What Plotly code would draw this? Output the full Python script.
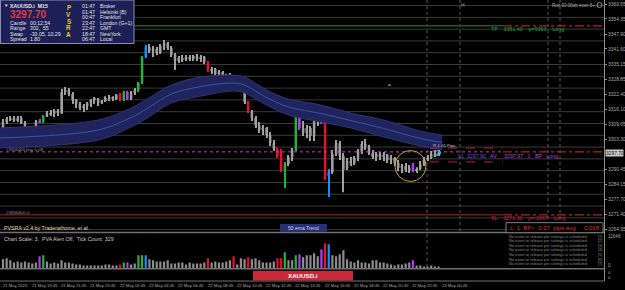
import plotly.graph_objects as go
import numpy as np

W, H = 625, 290

# ---------------- data ----------------
opens = [3306.0,3310.6,3311.9,3312.3,3311.1,3312.3,3310.2,3308.1,3305.5,3308.1,
         3311.1,3310.6,3313.2,3314.4,3314.0,3315.3,3314.4,3323.3,3324.2,3322.5,
         3320.0,3318.3,3316.6,3317.4,3318.7,3320.0,3320.4,3318.7,3319.5,3320.8,
         3321.2,3320.4,3322.5,3320.0,3323.3,3320.4,3322.9,3324.2,3327.2,3338.2,
         3342.4,3340.7,3341.6,3339.9,3342.8,3344.1,3342.0,3339.0,3336.5,3337.8,
         3336.9,3338.2,3337.3,3338.6,3337.3,3338.2,3336.1,3332.3,3333.1,3331.0,
         3331.8,3327.6,3330.1,3329.7,3328.4,3328.9,3326.7,3319.1,3314.9,3312.3,
         3309.4,3307.2,3308.1,3305.1,3301.7,3299.2,3297.9,3289.9,3292.8,3295.8,
         3298.8,3314.0,3308.1,3306.0,3308.1,3304.7,3314.0,3311.5,3310.2,3287.7,
         3289.4,3297.1,3301.7,3296.2,3291.1,3294.1,3293.2,3295.4,3298.3,3301.3,
         3300.0,3297.5,3295.8,3297.1,3295.8,3296.6,3294.5,3295.4,3293.2,3291.1,
         3292.0,3290.3,3292.8,3289.9,3290.7,3292.8,3294.5,3295.4,3297.1,3296.6]
highs = [3311.9,3312.7,3313.2,3313.2,3313.2,3313.2,3311.1,3308.9,3308.9,3311.5,
         3311.9,3313.6,3315.3,3315.7,3316.1,3316.1,3324.6,3325.5,3325.0,3323.3,
         3320.4,3319.1,3318.3,3319.1,3320.4,3321.2,3320.8,3320.0,3321.6,3322.1,
         3321.6,3322.5,3322.9,3323.8,3323.8,3323.8,3325.0,3327.6,3338.6,3343.3,
         3343.7,3342.8,3342.4,3343.7,3345.4,3344.5,3342.8,3339.9,3338.6,3339.0,
         3339.0,3339.0,3339.0,3339.5,3339.0,3338.6,3336.5,3334.0,3333.5,3332.7,
         3332.3,3331.0,3331.4,3330.1,3329.7,3329.3,3327.6,3319.5,3315.7,3313.2,
         3310.6,3309.4,3308.5,3306.4,3303.0,3300.0,3299.2,3293.7,3296.6,3299.6,
         3314.4,3314.4,3311.1,3309.4,3308.9,3315.3,3314.9,3312.3,3310.6,3290.7,
         3298.8,3303.0,3302.6,3297.5,3295.4,3295.8,3296.2,3299.2,3302.6,3303.4,
         3300.9,3298.8,3297.9,3297.9,3297.9,3297.1,3296.6,3295.8,3294.5,3292.8,
         3293.2,3292.4,3293.2,3291.5,3294.1,3295.8,3296.6,3298.3,3298.8,3298.8]
lows = [3303.8,3309.8,3311.1,3310.6,3310.6,3309.8,3307.2,3303.0,3300.5,3307.2,
        3310.2,3310.2,3312.7,3313.2,3312.7,3313.2,3314.0,3322.1,3321.6,3318.3,
        3316.6,3315.7,3314.9,3315.7,3317.0,3318.3,3317.4,3318.3,3319.1,3319.5,
        3319.5,3320.0,3319.5,3319.5,3320.0,3320.0,3322.1,3323.3,3326.7,3337.8,
        3339.9,3338.2,3339.0,3339.5,3341.2,3341.2,3338.2,3332.7,3335.6,3336.1,
        3336.5,3336.5,3336.5,3336.5,3336.1,3335.2,3331.8,3331.0,3329.7,3328.4,
        3326.3,3325.9,3328.4,3328.0,3327.2,3325.9,3318.3,3314.4,3311.1,3308.1,
        3306.0,3305.1,3303.8,3300.5,3298.3,3295.4,3289.4,3282.6,3292.0,3294.1,
        3298.3,3307.2,3304.7,3303.8,3302.6,3302.6,3308.9,3309.8,3286.0,3278.8,
        3288.6,3296.2,3294.5,3280.9,3290.3,3292.0,3292.4,3294.1,3297.1,3298.8,
        3296.6,3294.9,3294.1,3294.5,3294.1,3293.2,3292.8,3292.0,3289.8,3289.0,
        3289.4,3289.0,3289.4,3289.0,3290.3,3292.0,3294.1,3294.9,3295.8,3296.2]
closes = [3310.6,3311.9,3312.3,3311.1,3312.3,3310.2,3308.1,3305.5,3308.1,3310.6,
          3310.6,3313.2,3314.4,3314.0,3315.3,3314.4,3323.3,3324.2,3322.5,3320.0,
          3318.3,3316.6,3317.4,3318.7,3320.0,3320.4,3318.7,3319.5,3320.8,3321.2,
          3320.4,3322.1,3320.0,3323.3,3320.4,3322.9,3324.2,3327.2,3338.2,3342.4,
          3340.7,3341.6,3339.9,3342.8,3344.1,3342.0,3339.0,3336.5,3337.8,3336.9,
          3338.2,3337.3,3338.6,3337.3,3338.2,3336.1,3332.3,3333.1,3331.0,3331.8,
          3327.6,3330.1,3329.3,3328.4,3328.9,3326.7,3319.1,3314.9,3312.3,3309.4,
          3307.2,3308.1,3305.1,3301.7,3299.2,3296.2,3289.9,3292.8,3295.8,3298.8,
          3314.0,3308.1,3306.0,3308.1,3304.7,3314.0,3311.1,3310.2,3286.9,3289.4,
          3297.1,3301.7,3296.2,3290.3,3294.1,3293.2,3295.4,3298.3,3301.3,3300.0,
          3297.5,3295.8,3297.1,3295.8,3296.6,3294.5,3295.4,3293.2,3291.1,3292.0,
          3290.3,3291.1,3289.9,3290.7,3292.8,3294.5,3295.4,3297.1,3296.6,3297.7]
volumes = [3350,3720,2980,2230,2600,2230,2600,2230,1860,2230,
           4460,4840,2600,1860,2230,1860,2980,2230,2230,1860,
           1490,1490,1120,1120,1120,1120,1120,1120,1490,1490,
           1120,1120,1490,2230,2230,1490,1860,4840,4840,4840,
           3350,2980,2600,2600,2600,2980,1860,1860,2230,2230,
           1490,2230,1860,1860,1860,2230,3720,2230,2600,2230,
           2230,2600,2980,4460,1490,3720,3350,4090,3350,3720,
           2980,2230,2230,2230,2600,3720,3720,5950,2980,2980,
           4840,5210,4090,4840,4840,5580,4460,7070,9300,8930,
           4840,4460,5210,6700,3350,2600,2230,2980,2230,2230,
           1860,2980,2980,2230,2230,1860,1490,1120,1490,1490,
           1860,2230,2980,1120,1120,740,740,1120,740,740]

# PVSRA climax / rising-volume candles
pvsra_green = [11, 33, 37, 38, 77, 80]
pvsra_red = [32, 56, 63, 67, 75, 76, 88]
pvsra_blue = [39, 89]
pvsra_violet = [10, 34, 81, 87, 112]

# 50 EMA band (bar index, upper, lower)
ema_idx = [-1, 26, 35, 39, 46, 54, 63, 66, 72, 78, 87, 95, 104, 114, 120]
ema_upper = [3308.1, 3311.5, 3316.6, 3320.0, 3326.3, 3329.7, 3330.5, 3329.7, 3324.2,
             3320.4, 3317.8, 3314.4, 3311.5, 3306.8, 3305.1]
ema_lower = [3299.6, 3303.0, 3308.5, 3311.9, 3318.7, 3321.6, 3323.8, 3322.9, 3317.8,
             3313.6, 3310.6, 3308.1, 3304.3, 3300.5, 3298.8]

price_ticks = [3360.65, 3354.35, 3347.90, 3341.60, 3335.15, 3328.85, 3322.40, 3316.10,
               3309.65, 3303.30, 3290.45, 3284.15, 3277.70, 3271.40, 3264.95]
current_price = 3297.70
tp_price = 3351.40
sl_price = 3271.30
entry_price = 3297.97
range_hi = 3299.6
range_lo = 3293.7
vol_max_label = 11646

time_labels = ["21 May 2025", "21 May 19:45", "21 May 21:45", "21 May 23:45", "22 May 02:45",
               "22 May 04:45", "22 May 06:45", "22 May 08:45", "22 May 10:45", "22 May 12:45",
               "22 May 14:45", "22 May 16:45", "22 May 18:45", "22 May 20:45", "22 May 22:45",
               "23 May 00:45"]
time_label_idx = [0, 8, 16, 24, 32, 40, 48, 56, 64, 72, 80, 88, 96, 104, 112, 120]

# ---------------- styling ----------------
FONT = "Liberation Sans"
C_NORM = "#a0a0a0"
C_G, C_R, C_B, C_V = "#1fb53c", "#e3102e", "#1e8cf5", "#b43cf0"

n = len(opens)
idx = np.arange(n)
o, h, l, c = map(np.array, (opens, highs, lows, closes))
cols = [C_NORM] * n
for i in pvsra_green: cols[i] = C_G
for i in pvsra_red: cols[i] = C_R
for i in pvsra_blue: cols[i] = C_B
for i in pvsra_violet: cols[i] = C_V
vcols = ["#8c8c8c" if cc == C_NORM else cc for cc in cols]

fig = go.Figure()

# EMA band
fig.add_trace(go.Scatter(x=ema_idx, y=ema_upper, mode="lines", line=dict(color="#2e3478", width=1, shape="spline"),
                         hoverinfo="skip"))
fig.add_trace(go.Scatter(x=ema_idx, y=ema_lower, mode="lines", line=dict(color="#2e3478", width=1, shape="spline"),
                         fill="tonexty", fillcolor="#20245c", hoverinfo="skip"))
mid = [(a + b) / 2 for a, b in zip(ema_upper, ema_lower)]
fig.add_trace(go.Scatter(x=ema_idx, y=mid, mode="lines", line=dict(color="#3560c0", width=0.8, shape="spline"),
                         hoverinfo="skip"))

# candles: wicks and bodies
fig.add_trace(go.Bar(x=idx, base=l, y=h - l, width=0.28, marker=dict(color=cols, line=dict(width=0)),
                     hoverinfo="skip"))
body_lo = np.minimum(o, c)
body_h = np.maximum(np.abs(c - o), 0.45)
fig.add_trace(go.Bar(x=idx, base=body_lo, y=body_h, width=0.68, marker=dict(color=cols, line=dict(width=0)),
                     hoverinfo="skip"))

# volume
fig.add_trace(go.Bar(x=idx, y=volumes, width=0.6, marker=dict(color=vcols, line=dict(width=0)),
                     yaxis="y2", hoverinfo="skip"))

XR = 604 / W

def px(x): return x / W
def py(y): return 1 - y / H

shapes = []
annotations = []

def rect(x0, y0, x1, y1, fill=None, line=None, lw=1):
    shapes.append(dict(type="rect", xref="paper", yref="paper", x0=px(x0), x1=px(x1), y0=py(y1), y1=py(y0),
                       fillcolor=fill or "rgba(0,0,0,0)", line=dict(color=line or "rgba(0,0,0,0)", width=lw if line else 0),
                       layer="above"))

def hline(x0, x1, y, color, width=1, dash="solid", price=None):
    if price is None:
        shapes.append(dict(type="line", xref="paper", yref="paper", x0=px(x0), x1=px(x1), y0=py(y), y1=py(y),
                           line=dict(color=color, width=width, dash=dash), layer="above"))
    else:
        shapes.append(dict(type="line", xref="paper", yref="y", x0=px(x0), x1=px(x1), y0=price, y1=price,
                           line=dict(color=color, width=width, dash=dash), layer="above"))

def vline(x, y0, y1, color, width=1, dash="solid"):
    shapes.append(dict(type="line", xref="paper", yref="paper", x0=px(x), x1=px(x), y0=py(y0), y1=py(y1),
                       line=dict(color=color, width=width, dash=dash), layer="below"))

def txt(x, y, s, size=5.5, color="#d0d0d0", xa="left", bold=False, family=FONT):
    if bold:
        s = "<b>" + s + "</b>"
    annotations.append(dict(x=px(x), y=py(y), xref="paper", yref="paper", text=s, showarrow=False,
                            xanchor=xa, yanchor="middle", font=dict(size=size, color=color, family=family),
                            borderpad=0))

# $5 horizontal levels
for lv in range(3265, 3361, 5):
    shapes.append(dict(type="line", xref="paper", yref="y", x0=0, x1=XR, y0=lv, y1=lv,
                       line=dict(color="#3a3a3a", width=1), layer="below"))

# vertical dotted session lines
for xv in (427, 460, 548, 560):
    vline(xv, 0, 232, "#5a5a5a", 1, "dot")
vline(427, 234, 268, "#5a5a5a", 1, "dot")

# TP / SL / entry lines
hline(0, 503, None, "#1d5a22", 1.5, price=tp_price)
hline(503, 604, None, "#b0241c", 1.2, "dashdot", price=tp_price)
hline(0, 503, None, "#7a1418", 1.5, price=sl_price)
hline(503, 604, None, "#b0241c", 1.2, "dashdot", price=sl_price)
hline(0, 503, None, "#c040c0", 1, "dot", price=entry_price)
hline(503, 604, None, "#b0241c", 1.2, "dashdot", price=entry_price)
hline(430, 503, None, "#c0183c", 1, "dash", price=range_hi)
hline(430, 503, None, "#c0183c", 1, "dash", price=range_lo)

# circles
shapes.append(dict(type="circle", xref="paper", yref="paper", x0=px(395), x1=px(426), y0=py(181.5), y1=py(150.5),
                   line=dict(color="#c8a030", width=1)))
shapes.append(dict(type="circle", xref="paper", yref="paper", x0=px(435.5), x1=px(440.5), y0=py(155.5), y1=py(150.5),
                   line=dict(color="#30c8e8", width=1)))
rect(388, 84.5, 391, 85.8, fill="#d09020")

# pane separators / frame
hline(0, 604, 232.5, "#707070", 1.5)
hline(0, 604, 268.8, "#707070", 1.5)
hline(0, 604, 281, "#707070", 1)
vline(604.5, 0, 281, "#8c8c8c", 1)

# info panel
rect(0.5, 0, 134, 43.5, fill="#1d2056", line="#8a8fb0", lw=1)
txt(3, 5.6, "▼", 4.5, "#e0e0e0")
txt(9, 5.6, "XAUUSD.i  M15", 5.2, "#e8e8e8", bold=True)
txt(8.5, 14.8, "3297.70", 10, "#e8344a", bold=True)
for yy, k, v in [(22.7, "Candle", "00:12:54"), (28.2, "Range", "302,  55"),
                 (33.6, "Swap", "-30.05, 10.29"), (39.0, "Spread", "1.80")]:
    txt(9, yy, k, 5.2, "#e0e0e0")
    txt(29, yy, v, 5.2, "#e0e0e0")
for yy, ch in zip([7.3, 14.2, 21.0, 27.8, 34.6], "PVSRA"):
    txt(68.5, yy, ch, 6.3, "#e8cc22", xa="center", bold=True)
for yy, t, nme in [(5.8, "01:47", "Broker"), (11.5, "01:47", "Helsinki (B)"), (17.1, "00:47", "Frankfurt"),
                   (22.7, "23:47", "London (G+1)"), (28.3, "22:47", "GMT"), (33.9, "18:47", "NewYork"),
                   (39.4, "06:47", "Local")]:
    txt(81, yy, t, 5.2, "#e0e0e0")
    txt(98.5, yy, nme, 5.2, "#e0e0e0")

# top-right
txt(463, 5, "H", 5, "#9a9a9a", xa="center")
txt(596, 5, "Run 00:00sh even 6+", 4.5, "#b0b0b0", xa="right")
shapes.append(dict(type="circle", xref="paper", yref="paper", x0=px(597), x1=px(602), y0=py(7.5), y1=py(2.5),
                   line=dict(color="#b0b0b0", width=0.8)))

# trade texts
txt(490, 29.3, "TP    3351.40    p=5363    Long", 5.3, "#23a83c")
txt(490, 218.3, "SL    3271.30    p=-2667    Long", 5.3, "#d42032")
txt(457, 155.5, "01  3297.90", 5.3, "#6a58d8")
txt(489, 155.5, "AV     3297.97   1   BP   Long", 5.3, "#b044e0")
txt(432, 145, "R-1.05 Pips", 4.3, "#c8c8c8")
txt(5, 149.3, "#3306400 buy 0.08", 4.3, "#9a9a9a")
txt(5, 212.5, "#3306400 sl", 4.3, "#9a9a9a")

# 50 ema trend box
rect(280, 224, 327, 232, fill="#283070")
txt(303.5, 228.2, "50 ema Trend", 5, "#c8d0ff", xa="center")

# indicator titles
txt(3, 227.5, "PVSRA v2.4 by Traderathome, et al.", 5.3, "#e8dca8")
txt(3, 238.6, "Chart Scale: 3,  PVA Alert Off,  Tick Count: 329", 5.3, "#c8c8c8")

# L box
rect(506, 222.7, 603, 232.7, fill="#000000", line="#808080", lw=1)
txt(508.5, 227.8, "L: 1  BP>  0.27  pips avg", 6, "#e02a2a")
txt(601, 227.8, "0.018", 6, "#e02a2a", xa="right")

# event lines
for k, yy in enumerate([236.2, 240.8, 245.4, 250.0, 254.6, 259.2, 263.8]):
    txt(508, yy, "No event or release per settings is scheduled", 3.9, "#8a8a8a")
    txt(597, yy, "[%d]" % (k + 1), 3.9, "#8a8a8a")

# bottom red symbol pane
rect(253, 271, 353, 280.5, fill="#c8283a")
txt(303, 275.8, "XAUUSD.i", 6.2, "#ffffff", xa="center", bold=True)

# price axis current price box
rect(605.5, 149.5, 623.5, 156.5, fill="#c8c8c8")
txt(614.5, 153.1, "3297.70", 4.9, "#101010", xa="center")

# volume axis labels
txt(607, 236.7, str(vol_max_label), 4.6, "#a8a8a8")
txt(607, 265, "0", 4.6, "#a8a8a8")
txt(607, 272.5, "0", 4.2, "#a8a8a8")
txt(607, 277.5, "0", 4.2, "#a8a8a8")

# time labels (data-positioned)
for ti, tl in zip(time_label_idx, time_labels):
    annotations.append(dict(x=ti - 0.4, y=py(285), xref="x", yref="paper", text=tl, showarrow=False,
                            xanchor="left", yanchor="middle", font=dict(size=4.2, color="#a8a8a8", family=FONT),
                            borderpad=0))

x_lo = -3 / 3.66
x_hi = (604 - 3) / 3.66
y_top = 3362.35
y_bot = 3264.0

fig.update_layout(
    width=W, height=H, margin=dict(l=0, r=0, t=0, b=0),
    paper_bgcolor="#000000", plot_bgcolor="#000000",
    showlegend=False, barmode="overlay", hovermode=False,
    xaxis=dict(domain=[0, XR], range=[x_lo, x_hi], showgrid=False, zeroline=False, showticklabels=False,
               showline=False, ticks=""),
    yaxis=dict(domain=[py(232), 1], range=[y_bot, y_top], side="right", showgrid=False, zeroline=False,
               tickvals=price_ticks, ticktext=["%.2f" % v for v in price_ticks], ticks="outside", ticklen=2,
               tickcolor="#8c8c8c", tickfont=dict(size=4.9, color="#a8a8a8", family=FONT), showline=False),
    yaxis2=dict(domain=[py(268.5), py(234)], range=[0, 12650], side="right", showgrid=False, zeroline=False,
                showticklabels=False, ticks="", anchor="x"),
    shapes=shapes, annotations=annotations,
)

fig.write_html("out.html")
